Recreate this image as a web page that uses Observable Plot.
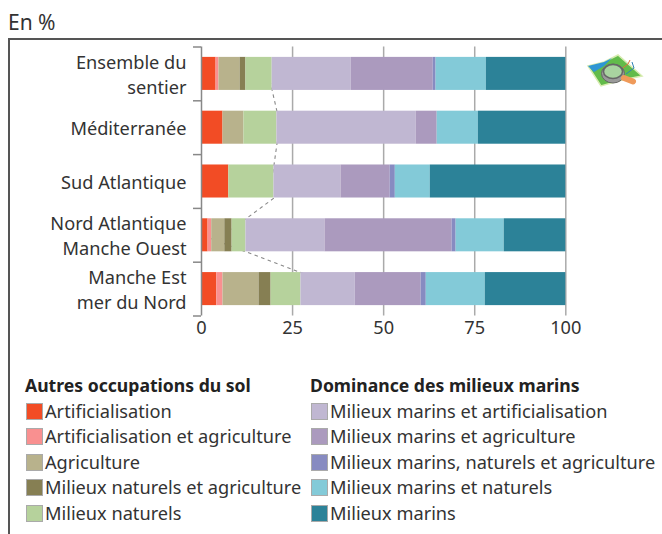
<!DOCTYPE html>
<html lang="fr"><head><meta charset="utf-8">
<script src="https://cdn.jsdelivr.net/npm/d3@7"></script>
<script src="https://cdn.jsdelivr.net/npm/@observablehq/plot@0.6"></script>
<style>
html,body{margin:0;padding:0;background:#fff;}
body{width:662px;height:534px;position:relative;overflow:hidden;font-family:"Noto Sans",sans-serif;color:#333;}
#title{position:absolute;left:8px;top:8px;font-size:21px;line-height:28px;}
#frame{position:absolute;left:8px;top:38px;right:-4px;bottom:-4px;border-top:2px solid #555;border-left:2px solid #555;}
#chart{position:absolute;left:0;top:40px;}
#chart svg{display:block;}
#icon{position:absolute;left:586px;top:52px;}
.col{position:absolute;top:373px;font-size:18.2px;}
.col h3{margin:0 0 0.5px 0;font-size:17.6px;font-weight:700;line-height:25px;color:#222;white-space:nowrap;}
.row{height:25.6px;line-height:25.6px;white-space:nowrap;position:relative;padding-left:20px;}
.row i{position:absolute;left:1px;top:4px;width:15px;height:15px;border:1px solid #aaa;}
</style></head><body>
<div id="title">En %</div>
<div id="frame"></div>
<div id="chart"></div>
<svg id="icon" width="60" height="36" viewBox="586 52 60 36">
<polygon points="588,66 604,62 618,55 642,76 622,80 601,86" fill="#62bb4a" stroke="#d8ecb0" stroke-width="1.5"/>
<polygon points="588,66 604,62 612,58 604,66 594,72" fill="#2f96d4"/>
<path d="M620,70 L628,64 L630,60" fill="none" stroke="#e0703c" stroke-width="1"/>
<path d="M626,74 L634,68 L632,62" fill="none" stroke="#2f80b4" stroke-width="1"/>
<ellipse cx="613" cy="73.5" rx="11.5" ry="9.5" fill="#9a9a9a" stroke="#666" stroke-width="1"/>
<ellipse cx="613" cy="71.5" rx="9.5" ry="7" fill="#a9d3a0" stroke="#666" stroke-width="1.5"/>
<line x1="624" y1="78" x2="633" y2="81.5" stroke="#ef9a5a" stroke-width="6" stroke-linecap="round"/>
</svg>
<div class="col" id="leg1" style="left:25px"></div>
<div class="col" id="leg2" style="left:310px"></div>
<script>
const categories = ["Ensemble du\nsentier","Méditerranée","Sud Atlantique","Nord Atlantique\nManche Ouest","Manche Est\nmer du Nord"];
const groupA = "Autres occupations du sol";
const groupB = "Dominance des milieux marins";
const seriesA = ["Artificialisation","Artificialisation et agriculture","Agriculture","Milieux naturels et agriculture","Milieux naturels"];
const seriesB = ["Milieux marins et artificialisation","Milieux marins et agriculture","Milieux marins, naturels et agriculture","Milieux marins et naturels","Milieux marins"];
const colorsA = ["#f24c25","#f99090","#b8b28c","#867f53","#b6d29c"];
const colorsB = ["#c0b7d2","#ab9abe","#878bc1","#83cad8","#2c8298"];
const artificialisation = [4.0,5.9,7.5,1.8,4.2];
const artifAgri = [0.8,0,0,1.0,1.7];
const agriculture = [5.8,5.75,0,3.6,9.9];
const naturelsAgri = [1.6,0,0,2.0,3.3];
const naturels = [7.2,9.05,12.4,3.8,8.2];
const marinsArtif = [21.7,38.25,18.4,21.7,14.9];
const marinsAgri = [22.5,5.75,13.5,34.9,18.1];
const marinsNatAgri = [0.8,0,1.4,1.1,1.4];
const marinsNaturels = [13.8,11.3,9.6,13.2,16.2];
const marins = [21.8,24,37.2,16.9,22.1];
const xTicks = [0,25,50,75,100];

const allSeries = [...seriesA,...seriesB];
const allValues = [artificialisation,artifAgri,agriculture,naturelsAgri,naturels,marinsArtif,marinsAgri,marinsNatAgri,marinsNaturels,marins];
const rows = allSeries.flatMap((s,i)=>categories.map((c,j)=>({category:c,series:s,value:allValues[i][j]})));

// Connectors: edge between the two groups, from each bar to the next.
const edge = categories.map((c,j)=>d3.sum(allValues.slice(0,5),v=>v[j]));
const paddingInner = 0.386;
const k = (1-paddingInner)/2/paddingInner; // hidden run behind each bar, relative to the visible gap
const links = categories.slice(0,-1).map((c,j)=>{
  const d = edge[j+1]-edge[j];
  return {a:c,b:categories[j+1],x1:edge[j]-d*k,x2:edge[j+1]+d*k};
});

const step = 53.8;
const tickColor = "#888";
const plot = Plot.plot({
  width:662,height:310,
  marginLeft:201,marginRight:96.7,marginTop:6.5,marginBottom:34.5,
  style:{background:"transparent",fontFamily:'"Noto Sans",sans-serif',color:"#333",overflow:"visible"},
  x:{domain:[0,100],label:null},
  y:{domain:categories,label:null,paddingInner,paddingOuter:paddingInner/2,round:false},
  color:{domain:allSeries,range:[...colorsA,...colorsB]},
  marks:[
    Plot.ruleX(xTicks.slice(1),{stroke:"#aaa",strokeWidth:1.5,strokeOpacity:1}),
    Plot.link(links,{x1:"x1",x2:"x2",y1:"a",y2:"b",stroke:"#888",strokeWidth:1.1,strokeDasharray:"3.5 3.5"}),
    Plot.barX(rows,{x:"value",y:"category",fill:"series",order:allSeries}),
    Plot.ruleX([0],{stroke:tickColor,strokeWidth:1.5,strokeOpacity:1}),
    Plot.axisY({tickSize:8,tickFormat:()=>"",stroke:tickColor,strokeWidth:1.5,strokeOpacity:1,dy:-step/2,label:null}),
    Plot.axisY({ticks:categories.slice(-1),tickSize:8,tickFormat:()=>"",stroke:tickColor,strokeWidth:1.5,strokeOpacity:1,dy:step/2,label:null}),
    Plot.axisY({tickSize:0,tickPadding:15,fontSize:18.2,lineHeight:1.37,fill:"#333",label:null,dy:-0.7}),
    Plot.axisX({ticks:xTicks,tickSize:0,tickPadding:5,fontSize:18.2,fill:"#333",label:null})
  ]
});
document.getElementById("chart").append(plot);

function legend(id,title,names,cols){
  const el=document.getElementById(id);
  el.innerHTML=`<h3>${title}</h3>`+names.map((n,i)=>`<div class="row"><i style="background:${cols[i]}"></i>${n}</div>`).join("");
}
legend("leg1",groupA,seriesA,colorsA);
legend("leg2",groupB,seriesB,colorsB);
</script>
</body></html>
